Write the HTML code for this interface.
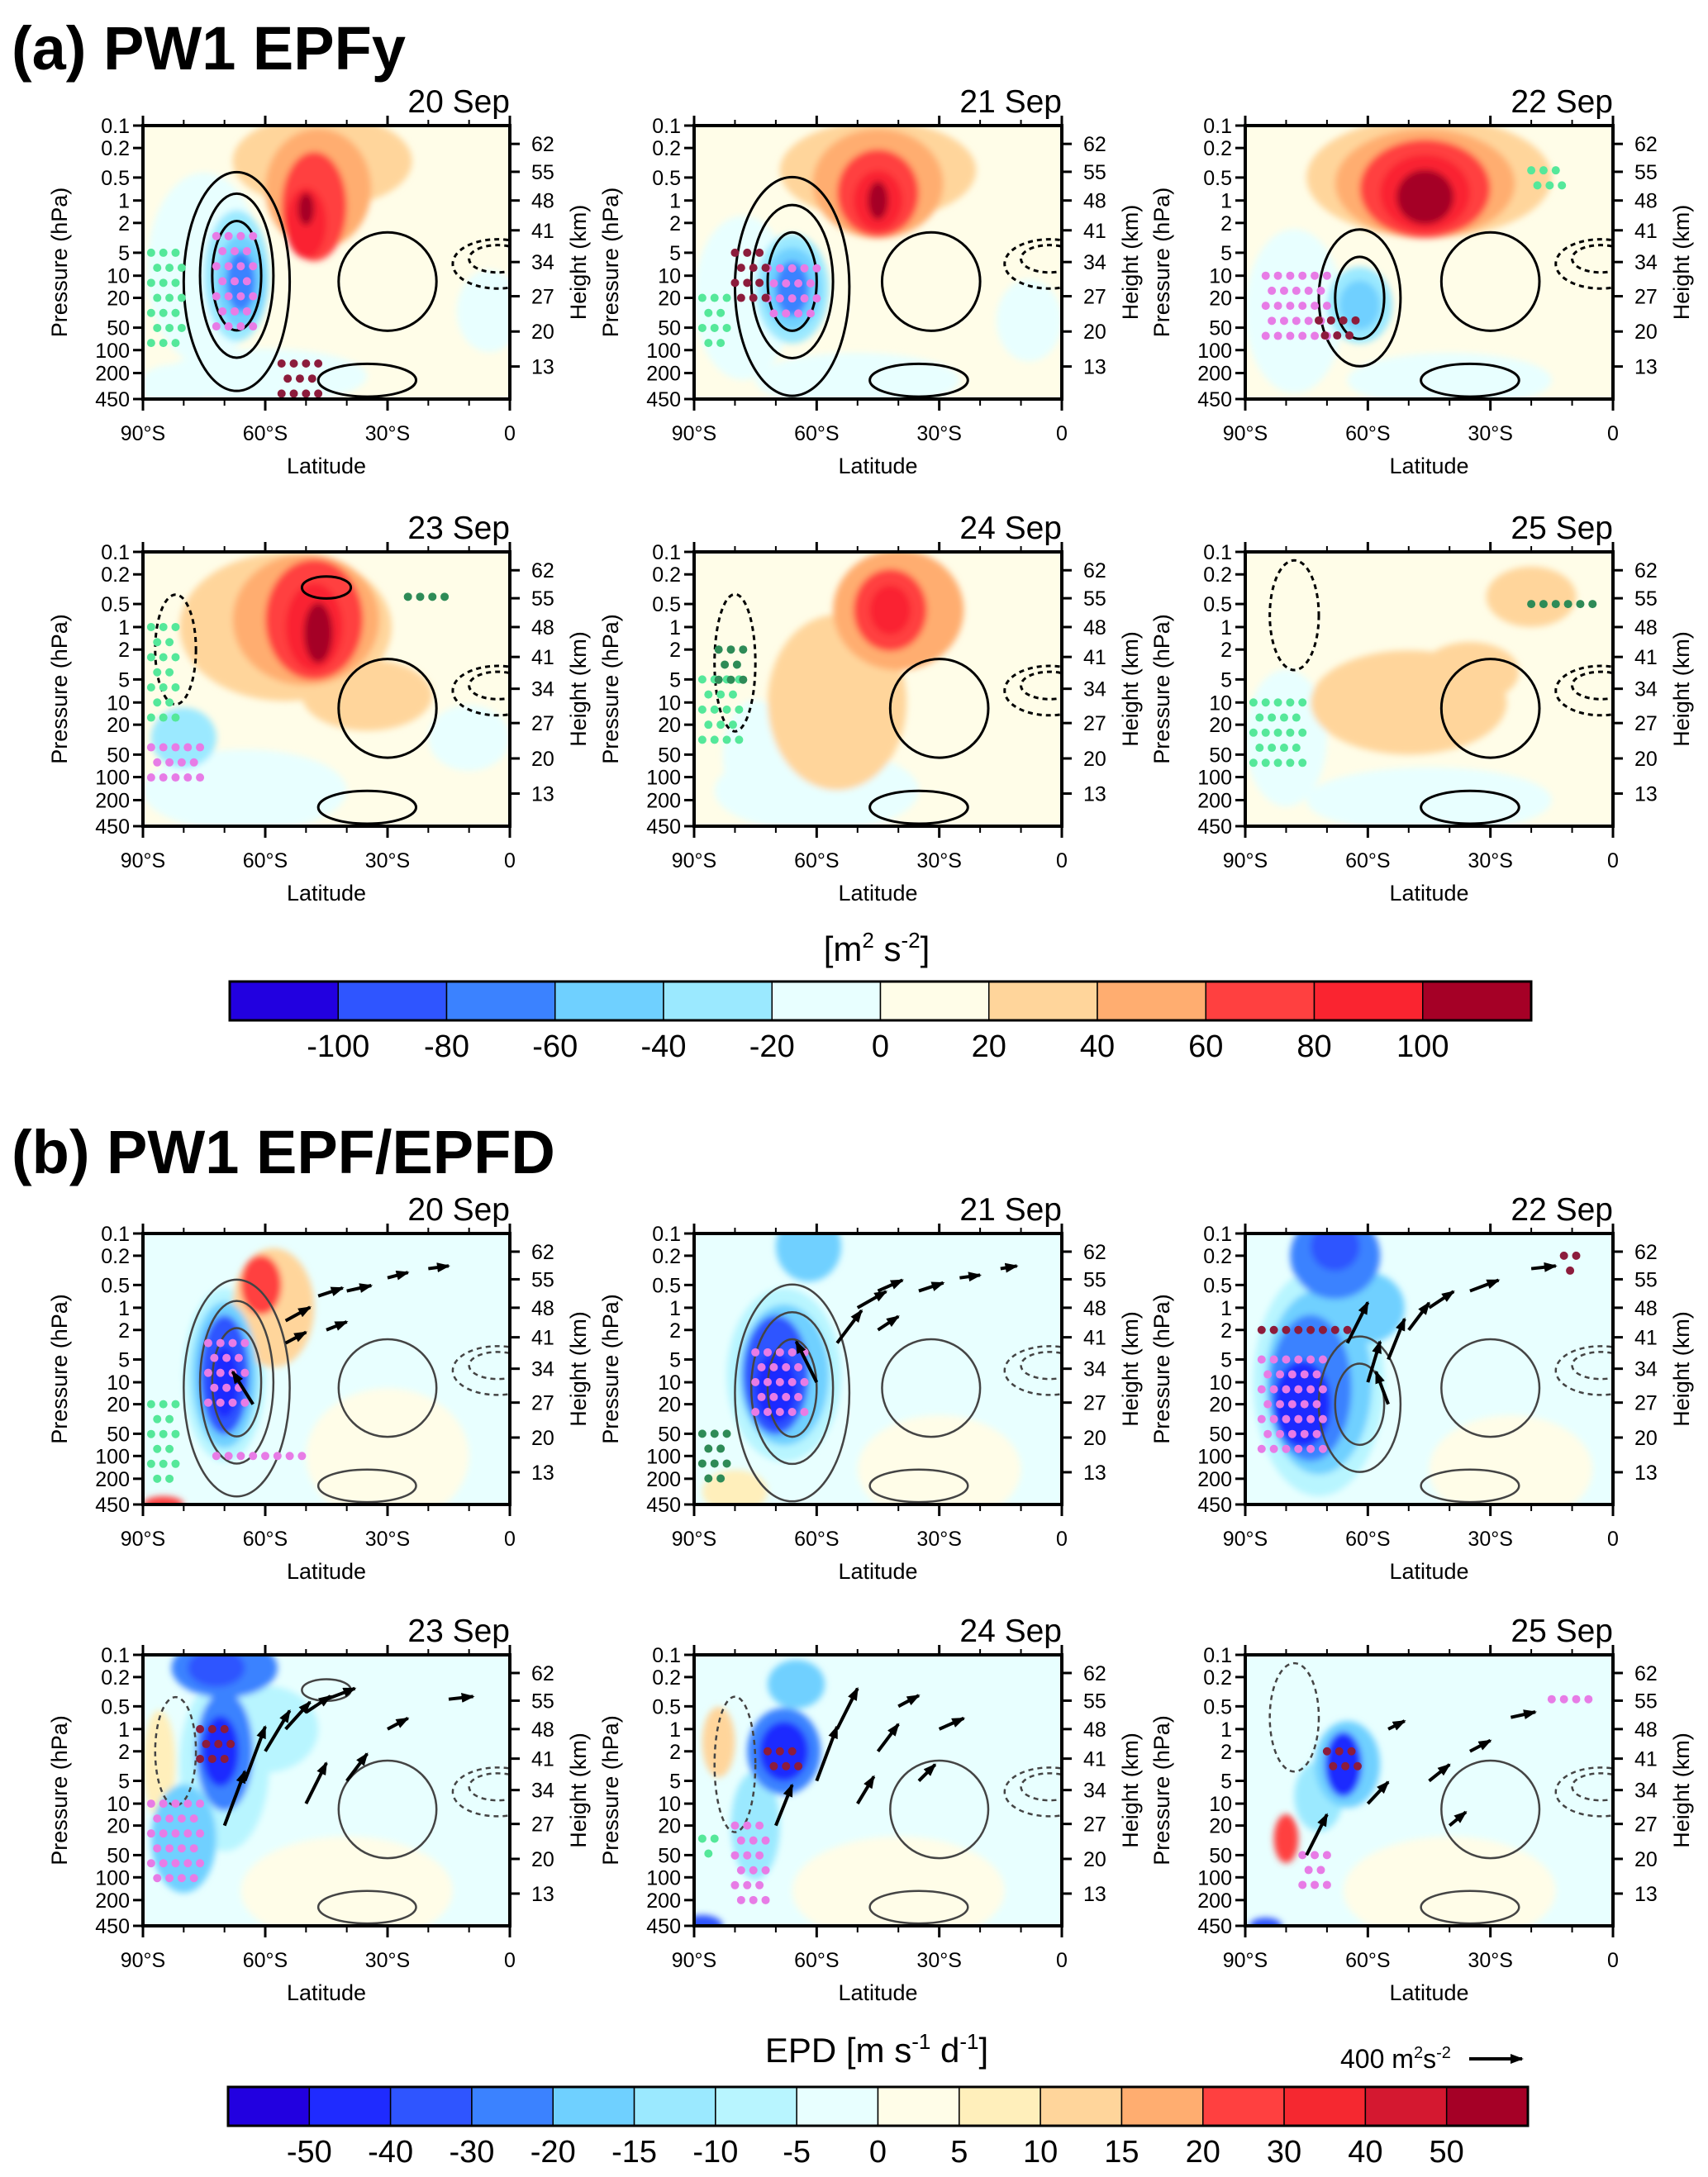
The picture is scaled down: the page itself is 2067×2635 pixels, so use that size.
<!DOCTYPE html>
<html><head><meta charset="utf-8"><style>
body{margin:0;background:#fff}
svg{display:block}
text{font-family:"Liberation Sans",Arial,sans-serif;fill:#000}
</style></head><body>
<svg id="fig" width="2067" height="2635" viewBox="0 0 2067 2635" xmlns="http://www.w3.org/2000/svg">
<defs>
<filter id="bl" x="-30%" y="-30%" width="160%" height="160%"><feGaussianBlur stdDeviation="4"/></filter>
<marker id="ah" markerWidth="16" markerHeight="12" refX="14" refY="6" orient="auto" markerUnits="userSpaceOnUse"><path d="M0,0 L16,6 L0,12 Z" fill="#000"/></marker>
</defs>
<text x="14" y="84" font-size="74" font-weight="bold">(a) PW1 EPFy</text>
<text x="14" y="1420" font-size="74" font-weight="bold">(b) PW1 EPF/EPFD</text>
<g id="panels"></g>
<g id="cbars"></g>
<text x="1061" y="1163" font-size="42" text-anchor="middle">[m<tspan font-size="26" dy="-16">2</tspan><tspan dy="16"> s</tspan><tspan font-size="26" dy="-16">-2</tspan><tspan dy="16">]</tspan></text>
<text x="1061" y="2496" font-size="42" text-anchor="middle">EPD [m s<tspan font-size="26" dy="-16">-1</tspan><tspan dy="16"> d</tspan><tspan font-size="26" dy="-16">-1</tspan><tspan dy="16">]</tspan></text>
<g>
<text x="1622" y="2503" font-size="32">400 m<tspan font-size="20" dy="-12">2</tspan><tspan dy="12">s</tspan><tspan font-size="20" dy="-12">-2</tspan></text>
<line x1="1778" y1="2492" x2="1842" y2="2492" stroke="#000" stroke-width="4" marker-end="url(#ah)"/>
</g>
</svg>
<script>
// ---- axis definitions ----
const pTicks=[0.1,0.2,0.5,1,2,5,10,20,50,100,200,450];
const pTickFrac=[0,.082,.190,.274,.356,.465,.549,.630,.739,.821,.905,1];
const hTicks=[62,55,48,41,34,27,20,13];
const hTickFrac=[.067,.169,.274,.383,.499,.624,.753,.881];
const latTicks=[-90,-60,-30,0];
const latLabels=["90°S","60°S","30°S","0"];
const dates=["20 Sep","21 Sep","22 Sep","23 Sep","24 Sep","25 Sep"];

// colour scales
const aLevels=[-100,-80,-60,-40,-20,0,20,40,60,80,100];
const aColors=["#2200e0","#2f55ff","#3b82ff","#6fd0ff","#9be9ff","#e8ffff","#fffde8","#ffd59b","#ffad70","#ff4040","#fa2430","#a50026"];
const bLevels=[-50,-40,-30,-20,-15,-10,-5,0,5,10,15,20,30,40,50];
const bColors=["#2200e0","#1f2bff","#2f55ff","#3b82ff","#6fd0ff","#9be9ff","#b8f5ff","#e8ffff","#fffde8","#ffefbb","#ffd59b","#ffad70","#ff4040","#f52830","#d41830","#a50026"];

// ---- data: blobs [lat, pressure hPa, half-width deg, half-height frac, value] ----
const aBlobs=[
 [[-75,8,14,0.35,-10],[-60,220,25,0.1,-10],[-5,30,8,0.15,-10],[-82,300,9,0.08,-10],[-46,0.3,22,0.17,30],[-47,0.7,13,0.22,50],[-48,1.2,8,0.2,70],[-50,2,5,0.13,90],[-50,1.3,2,0.06,110],[-67,10,8,0.24,-30],[-66,12,6,0.17,-50],[-66,12,3.5,0.11,-70]],
 [[-78,20,12,0.3,-10],[-50,250,25,0.1,-10],[-8,40,8,0.15,-10],[-45,0.4,24,0.18,30],[-45,0.6,16,0.2,50],[-45,0.8,10,0.16,70],[-45,1,6,0.11,90],[-45,1,2.5,0.07,110],[-66,15,9,0.2,-30],[-66,15,7,0.15,-50],[-66,15,4,0.1,-70]],
 [[-78,30,12,0.3,-10],[-40,250,25,0.1,-10],[-45,0.5,30,0.22,30],[-46,0.6,22,0.2,50],[-46,0.7,16,0.18,70],[-46,0.8,11,0.14,90],[-46,0.9,7,0.1,110],[-62,25,8,0.14,-30],[-62,25,5,0.09,-50]],
 [[-65,150,25,0.15,-10],[-10,30,10,0.12,-10],[-55,1,26,0.27,30],[-50,0.8,18,0.24,50],[-48,0.8,12,0.22,70],[-48,1,7,0.16,90],[-47,1.2,3.5,0.11,110],[-80,30,8,0.11,-30],[-35,8,16,0.13,30]],
 [[-60,150,25,0.15,-10],[-55,10,17,0.32,30],[-40,0.6,16,0.22,40],[-42,0.6,9,0.15,60],[-42,0.6,5,0.09,80],[-75,50,8,0.2,-10]],
 [[-45,200,30,0.12,-10],[-20,0.4,11,0.11,30],[-50,10,24,0.19,25],[-35,4,12,0.11,25],[-80,30,10,0.25,-10]]
];
const bBlobs=[
 [[-30,100,20,0.25,3],[-58,1,10,0.22,12],[-61,0.5,5,0.11,25],[-70,8,10,0.32,-8],[-70,8,8,0.27,-18],[-70,8,6,0.22,-35],[-70,10,3.5,0.13,-45],[-85,450,5,0.03,25]],
 [[-30,150,20,0.2,3],[-62,0.15,8,0.13,-18],[-68,8,14,0.32,-8],[-68,8,11,0.26,-18],[-70,8,8,0.22,-35],[-70,12,5,0.13,-45],[-80,300,8,0.08,8]],
 [[-25,150,20,0.2,3],[-68,0.2,11,0.16,-25],[-68,0.15,6,0.09,-40],[-72,10,16,0.42,-8],[-72,10,13,0.34,-18],[-74,12,10,0.27,-30],[-76,20,7,0.16,-42],[-60,1,9,0.13,-20]],
 [[-40,150,26,0.2,3],[-70,0.15,13,0.11,-25],[-72,0.15,7,0.07,-40],[-70,3,11,0.32,-10],[-70,2,7,0.22,-25],[-71,2,4.5,0.13,-42],[-80,30,8,0.2,-20],[-86,3,4,0.2,8],[-60,1,13,0.16,-8]],
 [[-40,150,26,0.2,3],[-65,0.25,7,0.09,-20],[-68,2,9,0.16,-25],[-68,2,6,0.11,-42],[-84,1.5,4,0.13,12],[-88,450,5,0.04,-40],[-75,20,6,0.2,-12]],
 [[-40,150,26,0.2,3],[-65,3,8,0.16,-20],[-66,3,4.5,0.12,-42],[-80,30,3,0.09,25],[-85,450,4,0.03,-40],[-72,8,6,0.13,-12]]
];
// contours [lat, p, half-width deg, half-height frac, dashed]
const aCont=[
 [[-67,10,6,0.2,0],[-67,10,9,0.3,0],[-67,12,13,0.4,0],[-30,12,12,0.18,0],[-3,6,7,0.05,1],[-3,7,11,0.09,1],[-35,250,12,0.06,0]],
 [[-66,12,6,0.18,0],[-66,12,10,0.28,0],[-66,14,14,0.4,0],[-32,12,12,0.18,0],[-3,6,7,0.05,1],[-3,7,11,0.09,1],[-35,250,12,0.06,0]],
 [[-62,20,6,0.15,0],[-62,20,10,0.25,0],[-30,12,12,0.18,0],[-3,6,7,0.05,1],[-3,7,11,0.09,1],[-35,250,12,0.06,0]],
 [[-82,2,5,0.2,1],[-30,12,12,0.18,0],[-3,6,7,0.05,1],[-3,7,11,0.09,1],[-35,250,12,0.06,0],[-45,0.3,6,0.04,0]],
 [[-80,3,5,0.25,1],[-30,12,12,0.18,0],[-3,6,7,0.05,1],[-3,7,11,0.09,1],[-35,250,12,0.06,0]],
 [[-78,0.7,6,0.2,1],[-30,12,12,0.18,0],[-3,6,7,0.05,1],[-3,7,11,0.09,1],[-35,250,12,0.06,0]]
];
// EP flux arrows [lat, p, dlat, dfrac]
const bArrows=[
 [[-55,1.5,6,-0.05],[-47,0.7,6,-0.03],[-40,0.6,6,-0.02],[-30,0.4,5,-0.02],[-20,0.3,5,-0.01],[-55,3,5,-0.04],[-45,2,5,-0.03],[-63,20,-5,-0.12]],
 [[-55,3,6,-0.12],[-60,10,-5,-0.15],[-50,1,7,-0.06],[-45,0.6,6,-0.04],[-35,0.6,6,-0.03],[-25,0.4,5,-0.01],[-15,0.3,4,-0.01],[-45,2,5,-0.05]],
 [[-60,10,3,-0.15],[-55,5,4,-0.15],[-50,2,5,-0.1],[-45,1,6,-0.06],[-35,0.6,7,-0.04],[-20,0.3,6,-0.01],[-65,3,5,-0.15],[-55,20,-3,-0.12]],
 [[-70,20,5,-0.2],[-65,5,5,-0.2],[-60,2,6,-0.15],[-55,1,6,-0.1],[-50,0.6,6,-0.06],[-45,0.4,7,-0.04],[-50,10,5,-0.15],[-40,5,5,-0.1],[-30,1,5,-0.04],[-15,0.4,6,-0.01]],
 [[-70,20,4,-0.15],[-60,5,5,-0.2],[-55,1,5,-0.15],[-45,2,5,-0.1],[-40,0.5,5,-0.04],[-30,1,6,-0.04],[-50,10,4,-0.1],[-35,5,4,-0.06]],
 [[-75,50,5,-0.15],[-60,10,5,-0.08],[-45,5,5,-0.06],[-35,2,5,-0.04],[-25,0.7,6,-0.02],[-55,1,4,-0.03],[-40,20,4,-0.05]]
];
// stipple regions [lat0, lat1, p0, p1, colour]
const aStip=[
 [[-72,-63,3,50,"#e77ce6"],[-56,-46,150,450,"#8c1c3c"],[-88,-80,5,100,"#55e89a"]],
 [[-72,-60,8,50,"#e77ce6"],[-80,-72,5,30,"#8c1c3c"],[-88,-82,20,100,"#55e89a"]],
 [[-85,-70,10,80,"#e77ce6"],[-72,-62,40,100,"#8c1c3c"],[-20,-12,0.4,0.7,"#55e89a"]],
 [[-88,-75,40,150,"#e77ce6"],[-88,-82,1,20,"#55e89a"],[-25,-15,0.4,0.6,"#2e8b57"]],
 [[-88,-78,5,40,"#55e89a"],[-84,-78,2,6,"#2e8b57"]],
 [[-88,-76,10,100,"#55e89a"],[-20,-5,0.5,0.7,"#2e8b57"]]
];
const bStip=[
 [[-74,-64,3,30,"#e77ce6"],[-72,-50,100,150,"#e77ce6"],[-88,-82,20,200,"#55e89a"]],
 [[-75,-63,4,40,"#e77ce6"],[-88,-82,50,200,"#2e8b57"]],
 [[-86,-70,5,100,"#e77ce6"],[-86,-65,2,3,"#8c1c3c"],[-12,-8,0.2,0.4,"#8c1c3c"]],
 [[-88,-75,10,150,"#e77ce6"],[-76,-68,1,3,"#8c1c3c"]],
 [[-80,-72,20,200,"#e77ce6"],[-72,-64,2,5,"#8c1c3c"],[-88,-84,30,60,"#55e89a"]],
 [[-76,-70,50,150,"#e77ce6"],[-70,-62,2,5,"#8c1c3c"],[-15,-5,0.4,0.5,"#e77ce6"]]
];

// ---- layout ----
const colX=[[173,617],[840,1285],[1507,1952]];
const rowYa=[[152,483],[668,1000]];
const rowYb=[[1493,1821],[2003,2331]];
const NS="http://www.w3.org/2000/svg";
function mk(tag,attrs,parent){const e=document.createElementNS(NS,tag);for(const k in attrs)e.setAttribute(k,attrs[k]);if(parent)parent.appendChild(e);return e;}
function pfrac(p){
  if(p<=pTicks[0])return 0; if(p>=pTicks[pTicks.length-1])return 1;
  for(let i=0;i<pTicks.length-1;i++){if(p>=pTicks[i]&&p<=pTicks[i+1]){const t=(Math.log(p)-Math.log(pTicks[i]))/(Math.log(pTicks[i+1])-Math.log(pTicks[i]));return pTickFrac[i]+t*(pTickFrac[i+1]-pTickFrac[i]);}}
  return 1;
}
function colorFor(v,levels,colors){let i=0;while(i<levels.length&&v>=levels[i])i++;return colors[i];}
const root=document.getElementById('panels');
let pid=0;
function panel(x0,x1,y0,y1,idx,isB){
  pid++;
  const W=x1-x0,H=y1-y0;
  const X=lat=>x0+(lat+90)/90*W;
  const Y=p=>y0+pfrac(p)*H;
  const g=mk('g',{},root);
  
  
  const cid='clip'+pid;
  const cp=mk('clipPath',{id:cid},g);mk('rect',{x:x0,y:y0,width:W,height:H},cp);
  const inner=mk('g',{'clip-path':'url(#'+cid+')'},g);
  const levels=isB?bLevels:aLevels, colors=isB?bColors:aColors;
  mk('rect',{x:x0,y:y0,width:W,height:H,fill:isB?'#e8ffff':'#fffde8'},inner);
  const fg=mk('g',{filter:'url(#bl)'},inner);
  const blobs=(isB?bBlobs:aBlobs)[idx].slice().sort((a,b)=>Math.abs(a[4])-Math.abs(b[4]));
  for(const b of blobs){
    const e=mk('ellipse',{cx:X(b[0]),cy:Y(b[1]),rx:b[2]/90*W,ry:b[3]*H,fill:colorFor(b[4],levels,colors)},fg);
    
    
  }
  for(const c of aCont[idx]){
    const e=mk('ellipse',{cx:X(c[0]),cy:Y(c[1]),rx:c[2]/90*W,ry:c[3]*H,fill:'none',stroke:isB?'#444':'#000','stroke-width':isB?2.5:3,'stroke-dasharray':c[4]?'6,5':'none'},inner);
    
    
  }
  const stips=(isB?bStip:aStip)[idx];
  for(const s of stips){
    let row=0;
    for(let f=pfrac(s[2]);f<=pfrac(s[3])+1e-6;f+=0.055,row++){
      for(let la=s[0]+(row%2)*1.5;la<=s[1];la+=3){
        const d=mk('circle',{cx:X(la),cy:y0+f*H,r:5,fill:s[4]},inner);
        
        
      }
    }
  }
  if(isB){
    for(const a of bArrows[idx]){
      const ax=X(a[0]),ay=Y(a[1]);
      const l=mk('line',{x1:ax,y1:ay,x2:ax+a[2]/90*W,y2:ay+a[3]*H,stroke:'#000','stroke-width':4,'marker-end':'url(#ah)'},inner);
      
      
    }
  }
  const fr=mk('rect',{x:x0,y:y0,width:W,height:H,fill:'none',stroke:'#000','stroke-width':4},g);
  
  
  pTicks.forEach((p,i)=>{
    const y=y0+pTickFrac[i]*H;
    mk('line',{x1:x0-12,y1:y,x2:x0,y2:y,stroke:'#000','stroke-width':3},g);
    const t=mk('text',{x:x0-16,y:y+9,'font-size':25,'text-anchor':'end'},g);t.textContent=p;
    
    
  });
  hTicks.forEach((h,i)=>{
    const y=y0+hTickFrac[i]*H;
    mk('line',{x1:x1,y1:y,x2:x1+12,y2:y,stroke:'#000','stroke-width':3},g);
    const t=mk('text',{x:x1+26,y:y+9,'font-size':25},g);t.textContent=h;
    
    
  });
  latTicks.forEach((la,i)=>{
    const x=X(la);
    mk('line',{x1:x,y1:y0-12,x2:x,y2:y0,stroke:'#000','stroke-width':3},g);
    mk('line',{x1:x,y1:y1,x2:x,y2:y1+14,stroke:'#000','stroke-width':3},g);
    const t=mk('text',{x:x,y:y1+50,'font-size':25,'text-anchor':'middle'},g);t.textContent=latLabels[i];
    
    
  });
  for(let la=-80;la<0;la+=10){if(la%30===0)continue;const x=X(la);
    mk('line',{x1:x,y1:y0-7,x2:x,y2:y0,stroke:'#000','stroke-width':2},g);
    mk('line',{x1:x,y1:y1,x2:x,y2:y1+8,stroke:'#000','stroke-width':2},g);}
  let t=mk('text',{x:x0+W/2,y:y1+90,'font-size':27,'text-anchor':'middle'},g);t.textContent='Latitude';
  
  t=mk('text',{x:0,y:0,'font-size':27,'text-anchor':'middle',transform:`translate(${x0-92},${y0+H/2}) rotate(-90)`},g);t.textContent='Pressure (hPa)';
  
  t=mk('text',{x:0,y:0,'font-size':27,'text-anchor':'middle',transform:`translate(${x1+92},${y0+H/2}) rotate(-90)`},g);t.textContent='Height (km)';
  
  t=mk('text',{x:x1,y:y0-16,'font-size':39,'text-anchor':'end'},g);t.textContent=dates[idx];
  
}
for(let r=0;r<2;r++)for(let c=0;c<3;c++){panel(colX[c][0],colX[c][1],rowYa[r][0],rowYa[r][1],r*3+c,false);}
for(let r=0;r<2;r++)for(let c=0;c<3;c++){panel(colX[c][0],colX[c][1],rowYb[r][0],rowYb[r][1],r*3+c,true);}

const cb=document.getElementById('cbars');
function colorbar(x0,x1,y0,y1,levels,colors,name){
  const g=mk('g',{},cb);
  
  
  const w=(x1-x0)/colors.length;
  colors.forEach((c,i)=>{mk('rect',{x:x0+i*w,y:y0,width:w,height:y1-y0,fill:c,stroke:'#000','stroke-width':1.5},g);});
  mk('rect',{x:x0,y:y0,width:x1-x0,height:y1-y0,fill:'none',stroke:'#000','stroke-width':3},g);
  levels.forEach((l,i)=>{const t=mk('text',{x:x0+(i+1)*w,y:y1+44,'font-size':38,'text-anchor':'middle'},g);t.textContent=l;
    });
}
colorbar(278,1853,1188,1235,aLevels,aColors,'colorbar-epfy');
colorbar(276,1849,2526,2573,bLevels,bColors,'colorbar-epfd');
</script>
</body></html>
